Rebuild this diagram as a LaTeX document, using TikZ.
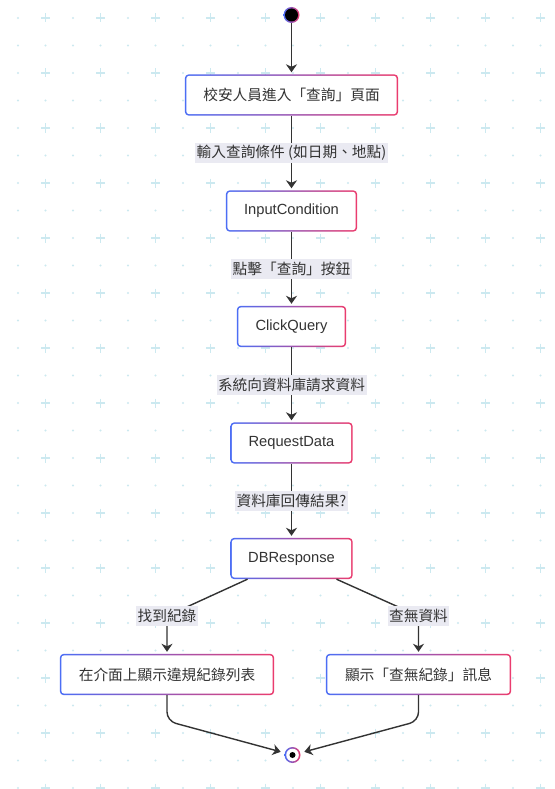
\documentclass[tikz,border=0pt]{standalone}
\usepackage{fontspec}
\setmainfont{Liberation Sans}
\newfontfamily\cjk{Noto Sans CJK TC}
\usetikzlibrary{arrows.meta,calc}
\definecolor{gblue}{RGB}{76,110,245}
\definecolor{gpink}{RGB}{235,60,110}
\definecolor{gridc}{RGB}{204,233,240}
\definecolor{labbg}{RGB}{234,234,242}
\definecolor{linec}{RGB}{51,51,51}
\definecolor{txtc}{RGB}{51,51,51}
\pgfdeclarelayer{gridlayer}
\pgfdeclarelayer{boxlayer}
\pgfdeclarelayer{edgelayer}
\pgfsetlayers{gridlayer,boxlayer,edgelayer,main}
\newcommand\gradframe[1]{%
  \begin{pgfonlayer}{boxlayer}
    \shade[left color=gblue,right color=gpink,rounded corners=4pt] (#1.south west) rectangle (#1.north east);
    \fill[white,rounded corners=3pt] ($(#1.south west)+(1.5,-1.5)$) rectangle ($(#1.north east)+(-1.5,1.5)$);
  \end{pgfonlayer}}
\tikzset{
  fbox/.style={rectangle, inner sep=0pt, minimum height=41pt, text=txtc,
    font=\fontsize{14.7pt}{17pt}\selectfont},
  cbox/.style={fbox, font=\fontsize{14.7pt}{17pt}\selectfont\cjk},
  elab/.style={rectangle, fill=labbg, inner xsep=1.5pt, inner ysep=0pt, minimum height=20pt,
    text=txtc, font=\fontsize{14.7pt}{17pt}\selectfont\cjk},
  conn/.style={draw=linec, line width=1.4pt,
    -{Stealth[length=8pt,width=11pt,inset=2.5pt]}, shorten >=2pt},
  dotnode/.style={circle, inner sep=0pt, minimum size=16pt}
}
\begin{document}
\begin{tikzpicture}[x=1pt,y=-1pt]
\useasboundingbox (0,0) rectangle (554,789);
\begin{pgfonlayer}{gridlayer}
  \fill[white] (0,0) rectangle (554,789);
  \foreach \i in {0,...,19}{
    \foreach \j in {0,...,28}{
      \pgfmathsetmacro\gx{18+27.5*\i}
      \pgfmathsetmacro\gy{18+27.5*\j}
      \pgfmathtruncatemacro\isplus{and(mod(\i,2)==1,mod(\j,2)==0)}
      \ifnum\isplus=1
        \draw[gridc,line width=1.4pt] (\gx-4.5,\gy) -- (\gx+4.5,\gy) (\gx,\gy-4.5) -- (\gx,\gy+4.5);
      \else
        \fill[gridc] (\gx,\gy) circle (1.2pt);
      \fi
    }
  }
\end{pgfonlayer}

% nodes
\node[dotnode] (start) at (291.5,15) {};
\node[cbox, minimum width=213pt] (n1) at (291.5,95) {校安人員進入「查詢」頁面};
\node[fbox, minimum width=131pt] (n2) at (291.5,211) {InputCondition};
\node[fbox, minimum width=109pt] (n3) at (291.5,326.5) {ClickQuery};
\node[fbox, minimum width=122pt] (n4) at (291.5,443) {RequestData};
\node[fbox, minimum width=122pt] (db) at (291.5,558.5) {DBResponse};
\node[cbox, minimum width=214pt] (yes) at (167,674.5) {在介面上顯示違規紀錄列表};
\node[cbox, minimum width=185pt] (no) at (418.5,674.5) {顯示「查無紀錄」訊息};
\node[dotnode] (endc) at (292.5,755) {};

\gradframe{n1}\gradframe{n2}\gradframe{n3}\gradframe{n4}\gradframe{db}\gradframe{yes}\gradframe{no}
\begin{pgfonlayer}{boxlayer}
  \shade[left color=gblue,right color=gpink] (start.center) circle (8pt);
  \fill[black] (start.center) circle (6.5pt);
  \shade[left color=gblue,right color=gpink] (endc.center) circle (8pt);
  \fill[white] (endc.center) circle (6.3pt);
  \fill[black] (endc.center) circle (3pt);
\end{pgfonlayer}

% edge labels
\node[elab] (l1) at ($(n1.south)!0.5!(n2.north)$) {輸入查詢條件 (如日期、地點)};
\node[elab] (l2) at ($(n2.south)!0.5!(n3.north)$) {點擊「查詢」按鈕};
\node[elab] (l3) at ($(n3.south)!0.5!(n4.north)$) {系統向資料庫請求資料};
\node[elab] (l4) at ($(n4.south)!0.5!(db.north)$) {資料庫回傳結果?};
\node[elab] (lyes) at (167,616) {找到紀錄};
\node[elab] (lno) at (418.5,616) {查無資料};

\coordinate (dbL) at ($(db.south)+(-44,0)$);
\coordinate (dbR) at ($(db.south)+(45,0)$);
\coordinate (bl) at (167,721);
\coordinate (br) at (418.5,721);

\begin{pgfonlayer}{edgelayer}
  \draw[conn] (start) -- (n1);
  \draw[conn] (n1) -- (n2);
  \draw[conn] (n2) -- (n3);
  \draw[conn] (n3) -- (n4);
  \draw[conn] (n4) -- (db);
  \draw[conn] (dbL) -- (lyes.center) -- (yes);
  \draw[conn] (dbR) -- (lno.center) -- (no);
  \draw[conn, rounded corners=9pt, shorten >=4pt] (yes) -- (bl) -- (endc);
  \draw[conn, rounded corners=9pt, shorten >=4pt] (no) -- (br) -- (endc);
\end{pgfonlayer}
\end{tikzpicture}
\end{document}
